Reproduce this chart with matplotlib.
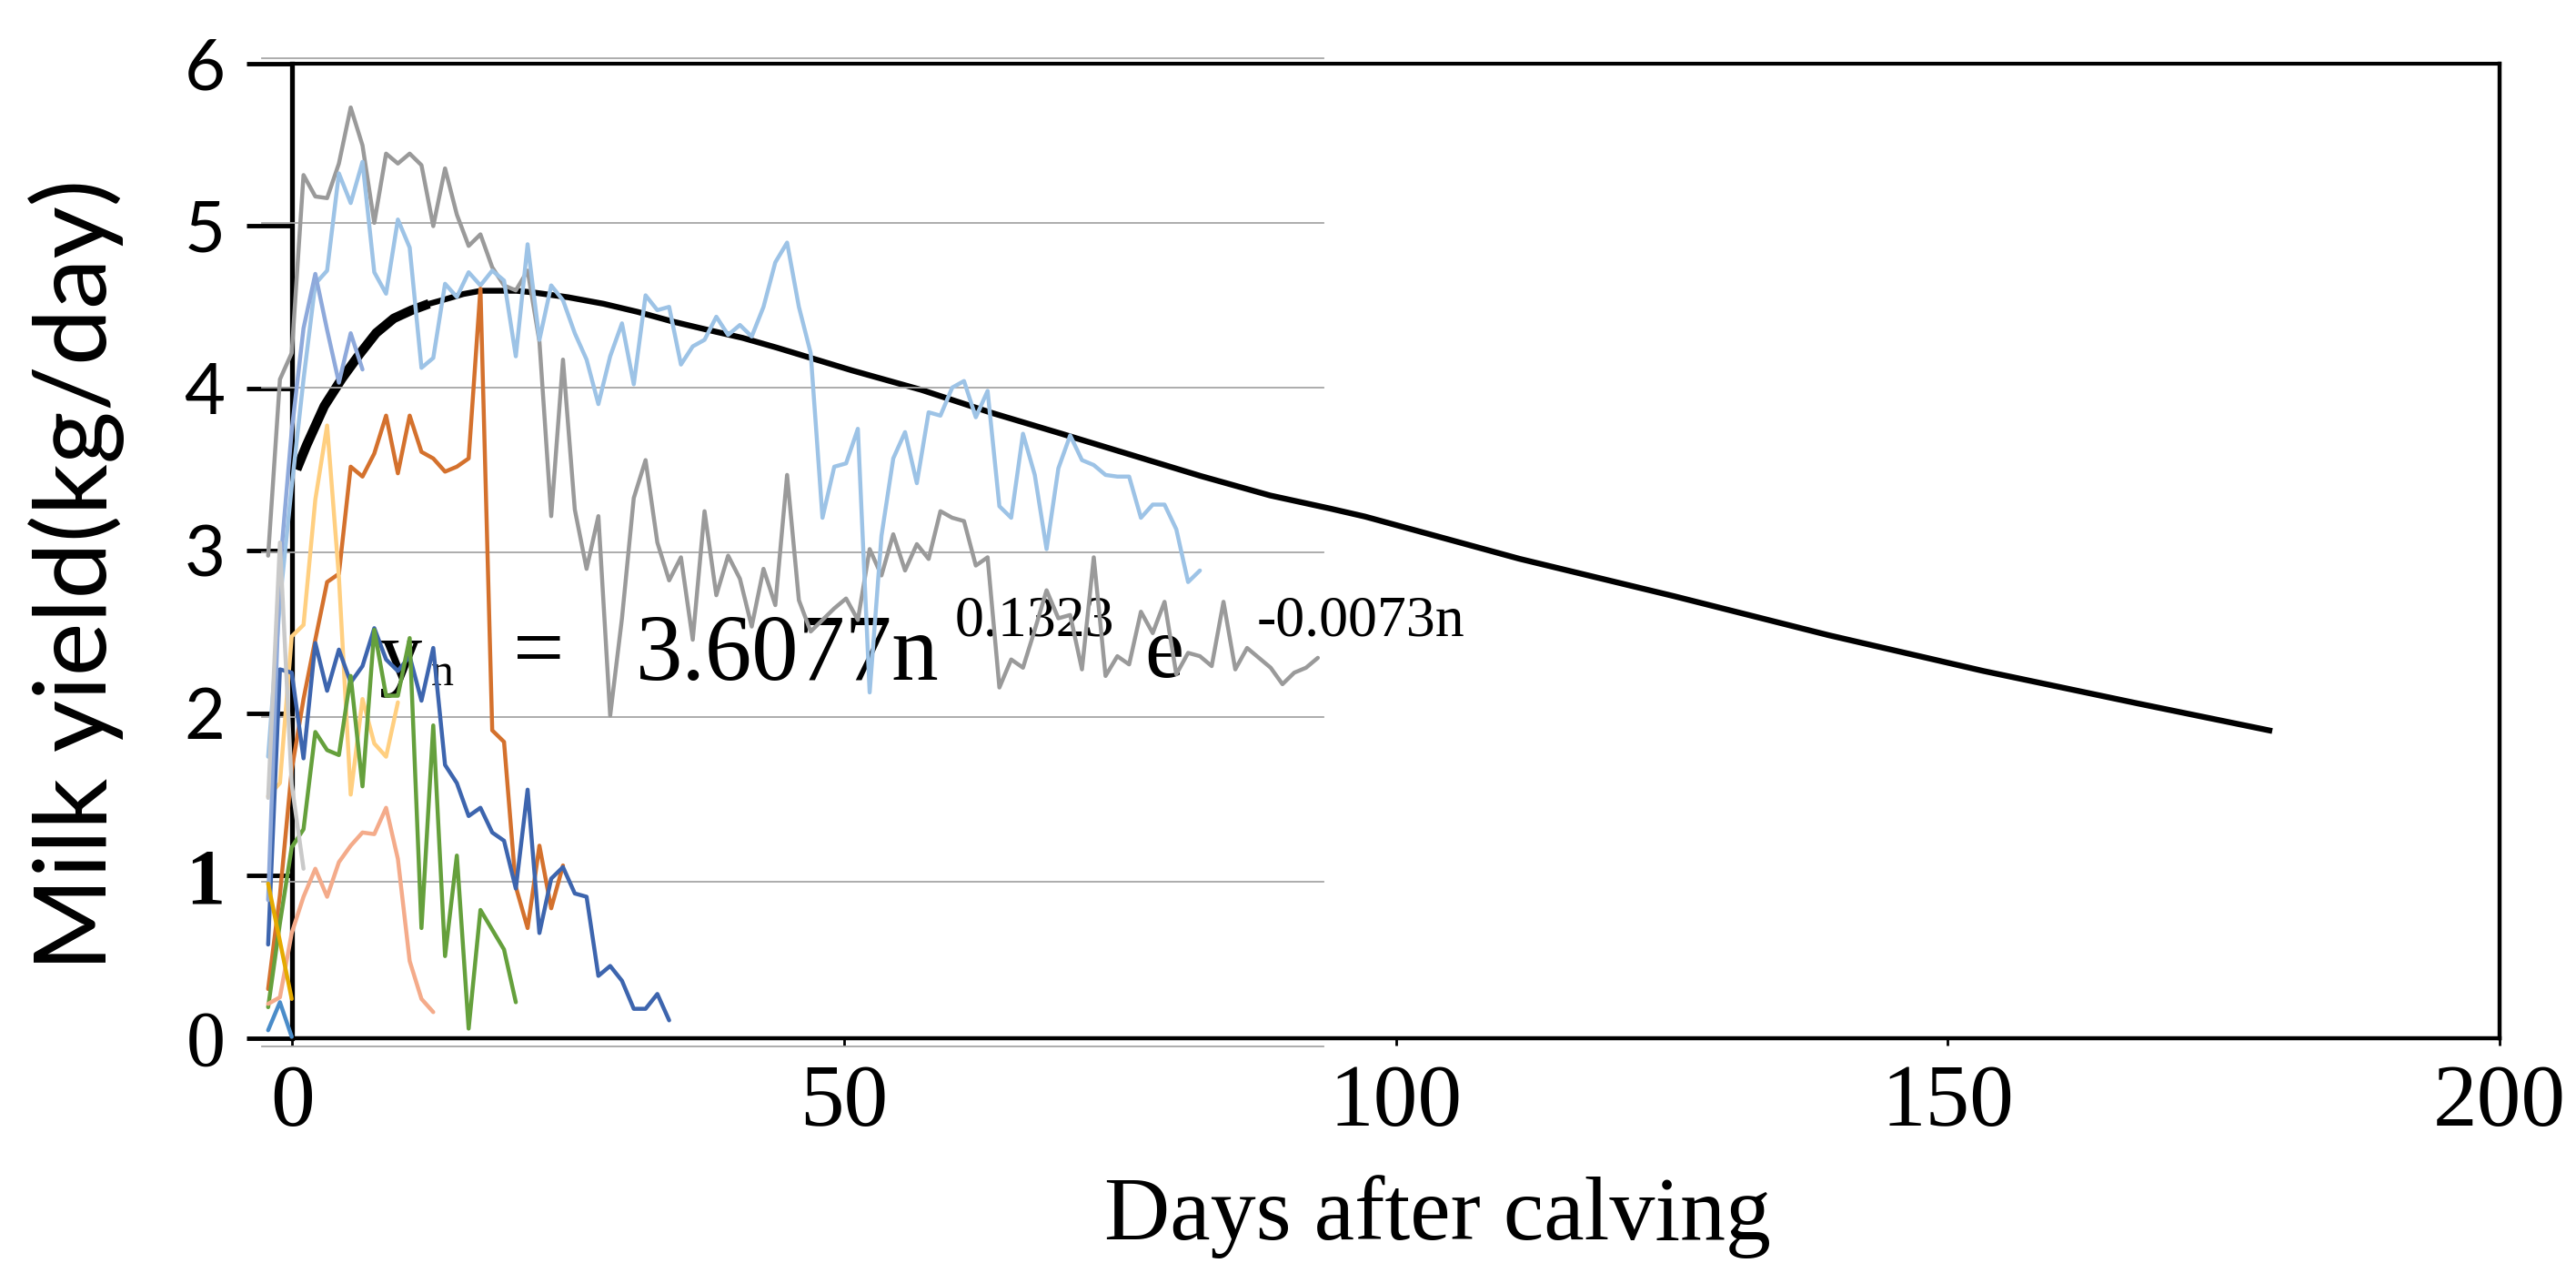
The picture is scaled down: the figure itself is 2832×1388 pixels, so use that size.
import numpy as np
import matplotlib
matplotlib.use("Agg")
import matplotlib.pyplot as plt

W, H, DPI = 2832, 1388, 100

# ---------------- data ----------------
# fitted lactation curve (outer chart, days after calving)
fit_days = [0.4, 1.3, 2.9, 4.5, 6.1, 7.6, 9.2, 10.8, 12.4, 14.0, 15.5, 17.1, 18.7,
            20.3, 21.8, 25.0, 28.2, 31.3, 34.5, 37.6, 40.8, 43.9, 50.7, 57.0, 63.3,
            69.7, 76.0, 82.3, 88.6, 94.0, 97.2, 111.2, 125.2, 139.2, 153.2, 167.2, 179.4]
fit_vals = [3.50, 3.65, 3.89, 4.06, 4.21, 4.34, 4.43, 4.48, 4.52, 4.55, 4.58, 4.60, 4.60,
            4.60, 4.59, 4.56, 4.52, 4.47, 4.41, 4.36, 4.31, 4.25, 4.11, 3.99, 3.85,
            3.72, 3.59, 3.46, 3.34, 3.26, 3.21, 2.95, 2.72, 2.48, 2.26, 2.06, 1.89]

# individual records (inner chart, one value per recording day)
gray = [2.98, 4.05, 4.21, 5.29, 5.16, 5.15, 5.36, 5.70, 5.47, 5.00,
        5.42, 5.36, 5.42, 5.35, 4.98, 5.33, 5.05, 4.86, 4.93, 4.73,
        4.62, 4.59, 4.71, 4.28, 3.22, 4.17, 3.26, 2.90, 3.22, 2.01,
        2.60, 3.33, 3.56, 3.06, 2.83, 2.97, 2.47, 3.25, 2.74, 2.98,
        2.84, 2.55, 2.90, 2.68, 3.47, 2.71, 2.52, 2.59, 2.66, 2.72,
        2.59, 3.02, 2.86, 3.11, 2.89, 3.05, 2.96, 3.25, 3.21, 3.19,
        2.92, 2.97, 2.18, 2.35, 2.30, 2.53, 2.77, 2.60, 2.62, 2.29,
        2.97, 2.25, 2.37, 2.32, 2.64, 2.51, 2.70, 2.26, 2.39, 2.37,
        2.31, 2.70, 2.29, 2.42, 2.36, 2.30, 2.20, 2.27, 2.30, 2.36]
light_blue = [1.76, 2.70, 3.40, 4.05, 4.63, 4.71, 5.30, 5.12, 5.37, 4.70,
              4.57, 5.02, 4.85, 4.12, 4.18, 4.63, 4.55, 4.70, 4.62, 4.71,
              4.65, 4.19, 4.87, 4.29, 4.62, 4.53, 4.33, 4.17, 3.90, 4.19,
              4.39, 4.02, 4.56, 4.47, 4.49, 4.14, 4.25, 4.29, 4.43, 4.32,
              4.38, 4.31, 4.49, 4.76, 4.88, 4.49, 4.21, 3.21, 3.52, 3.54,
              3.75, 2.15, 3.10, 3.57, 3.73, 3.42, 3.85, 3.83, 4.00, 4.04,
              3.82, 3.98, 3.28, 3.21, 3.72, 3.47, 3.02, 3.51, 3.71, 3.56,
              3.53, 3.47, 3.46, 3.46, 3.21, 3.29, 3.29, 3.14, 2.82, 2.89]
orange = [0.35, 0.92, 1.68, 2.11, 2.47, 2.82, 2.87, 3.52, 3.46, 3.60, 3.83, 3.48, 3.83,
          3.61, 3.57, 3.49, 3.52, 3.57, 4.60, 1.92, 1.85, 0.97, 0.72, 1.22, 0.84, 1.10]
yellow = [1.52, 1.60, 2.49, 2.56, 3.32, 3.77, 2.85, 1.53, 2.11, 1.84, 1.76, 2.09]
blue = [0.62, 2.29, 2.27, 1.75, 2.45, 2.16, 2.41, 2.21, 2.31, 2.54, 2.35, 2.28, 2.37,
        2.10, 2.42, 1.71, 1.60, 1.40, 1.45, 1.30, 1.25, 0.96, 1.56, 0.69, 1.02, 1.09,
        0.93, 0.91, 0.43, 0.49, 0.40, 0.23, 0.23, 0.32, 0.16]
green = [0.24, 0.75, 1.21, 1.32, 1.91, 1.80, 1.77, 2.25, 1.58, 2.53, 2.13, 2.13, 2.48,
         0.72, 1.95, 0.55, 1.16, 0.11, 0.83, 0.71, 0.59, 0.27]
salmon = [0.26, 0.30, 0.69, 0.91, 1.08, 0.91, 1.12, 1.22, 1.30, 1.29, 1.45, 1.14, 0.52,
          0.29, 0.21]
periwinkle = [0.89, 2.90, 3.74, 4.36, 4.69, 4.35, 4.03, 4.33, 4.11]
light_gray = [1.51, 3.06, 1.59, 1.08]
gold = [0.99, 0.64, 0.29]
steel = [0.10, 0.27, 0.06]

inner_series = [
    (gray, "#9a9a9a"), (light_blue, "#9dc3e6"), (orange, "#d4712d"),
    (yellow, "#ffcf80"), (blue, "#3d65ae"), (green, "#65a03c"),
    (salmon, "#f4ab8a"), (periwinkle, "#8ea9db"), (light_gray, "#c9c9c9"),
    (gold, "#e5aa00"), (steel, "#4a8cc9"),
]

x_ticks = [0, 50, 100, 150, 200]
y_ticks = [0, 1, 2, 3, 4, 5, 6]
n_inner = 90  # recording days shown in the inner chart

# ---------------- layout helpers (pixel -> figure fraction) ----------------
def fx(px):
    return px / W

def fy(py):
    return 1 - py / H

fig = plt.figure(figsize=(W / DPI, H / DPI), dpi=DPI)
fig.patch.set_facecolor("white")

# ---------------- outer chart ----------------
ax = fig.add_axes([fx(321.3), fy(1140.8), (2748 - 321.3) / W, (1140.8 - 69.6) / H])
ax.set_xlim(x_ticks[0], x_ticks[-1])
ax.set_ylim(y_ticks[0], y_ticks[-1])
ax.patch.set_alpha(0)
for side, lw in (("left", 3.8), ("bottom", 3.2), ("top", 3.0), ("right", 3.2)):
    ax.spines[side].set_color("black")
    ax.spines[side].set_linewidth(lw)

ax.plot(fit_days, fit_vals, color="black", lw=4.6, solid_capstyle="butt",
        solid_joinstyle="round", zorder=3)
ax.plot(fit_days[:9], fit_vals[:9], color="black", lw=7.5, solid_capstyle="butt",
        solid_joinstyle="round", zorder=3)

ax.set_xticks(x_ticks)
ax.set_xticklabels([str(v) for v in x_ticks], fontfamily="Liberation Serif", fontsize=70)
ax.tick_params(axis="x", direction="out", length=6, width=2, pad=15, colors="black")

ax.set_yticks(y_ticks)
ax.set_yticklabels([str(v) for v in y_ticks])
for lab, v in zip(ax.get_yticklabels(), y_ticks):
    if v <= 1:
        lab.set_fontfamily("Liberation Serif")
        lab.set_fontsize(62)
        lab.set_fontweight("bold" if v == 1 else "normal")
    else:
        lab.set_fontfamily("Lato")
        lab.set_fontsize(56)
ax.tick_params(axis="y", direction="out", length=36, width=3.5, pad=17, colors="black")

# equation (Wood model) drawn in pixel positions of the figure
eq_kw = dict(transform=fig.transFigure, color="black", fontfamily="Liberation Serif",
             va="baseline", ha="center", zorder=1, clip_on=False)
ax.text(fx(440), fy(747), "y", fontsize=68, **eq_kw)
ax.text(fx(486), fy(753), "n", fontsize=36, **eq_kw)
ax.text(fx(592), fy(745), "=", fontsize=72, **eq_kw)
ax.text(fx(866), fy(747), "3.6077n", fontsize=74, **eq_kw)
ax.text(fx(1137), fy(698), "0.1323", fontsize=46, **eq_kw)
ax.text(fx(1280), fy(744), "e", fontsize=70, **eq_kw)
ax.text(fx(1496), fy(698), "-0.0073n", fontsize=46, **eq_kw)

# ---------------- inner (overlaid) chart ----------------
axi = fig.add_axes([fx(288.3), fy(1150.3), (1455.3 - 288.3) / W, (1150.3 - 63.8) / H],
                   zorder=2)
axi.set_xlim(-0.5, n_inner - 0.5)
axi.set_ylim(y_ticks[0], y_ticks[-1])
axi.patch.set_alpha(0)
for s in axi.spines.values():
    s.set_visible(False)
axi.set_xticks([])
axi.set_yticks(y_ticks)
axi.tick_params(axis="y", length=0, labelleft=False)
axi.grid(axis="y", color="#a6a6a6", lw=1.3)
axi.set_axisbelow(True)
for gl in axi.get_ygridlines():
    gl.set_clip_on(False)

for vals, col in inner_series:
    axi.plot(np.arange(len(vals)), vals, color=col, lw=3.2, solid_joinstyle="round",
             solid_capstyle="round", clip_on=False, zorder=3)

# ---------------- axis titles ----------------
fig.text(fx(84), fy(632), "Milk yield(kg/day)", rotation=90, ha="center", va="center",
         fontfamily="Lato", fontsize=80, color="black")
fig.text(fx(1580), fy(1362), "Days after calving", ha="center", va="baseline",
         fontfamily="Liberation Serif", fontsize=72, color="black")

fig.savefig("out.png", dpi=DPI, facecolor="white")
